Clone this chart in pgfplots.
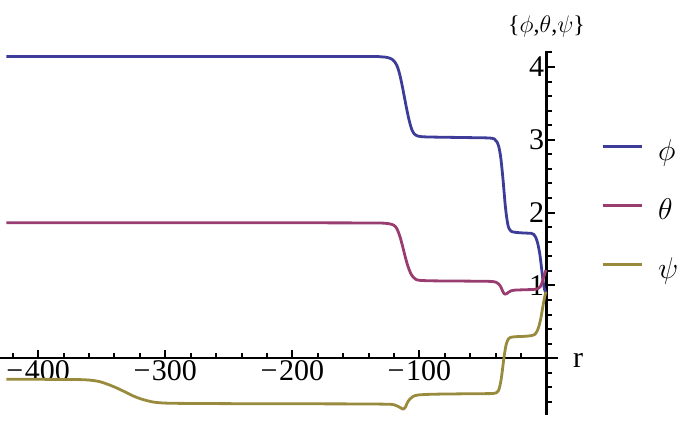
\RequirePackage{fix-cm}
\documentclass[border=0pt]{standalone}
\usepackage{fontspec}
\setmainfont{Liberation Serif}
\usepackage{pgfplots}
\pgfplotsset{compat=1.18}
\definecolor{cphi}{rgb}{0.24,0.24,0.6}
\definecolor{ctheta}{rgb}{0.6,0.24,0.442}
\definecolor{cpsi}{rgb}{0.6,0.547,0.24}
\newcommand{\mn}{−\kern1.5pt}
\begin{document}
\begin{tikzpicture}
\useasboundingbox (0,0) rectangle (688pt,425pt);
\begin{axis}[
  at={(0pt,10pt)}, anchor=south west,
  scale only axis, width=558pt, height=364pt,
  xmin=-430, xmax=9, ymin=-0.78, ymax=4.22,
  axis lines=middle,
  axis line style={line width=2.5pt,-},
  every inner x axis line/.append style={-},
  every inner y axis line/.append style={-},
  tick align=inside,
  major tick length=8pt, minor tick length=5pt,
  tick style={black, line width=2pt},
  xtick={-400,-300,-200,-100}, xticklabels={\mn400,\mn300,\mn200,\mn100},
  ytick={1,2,3,4}, yticklabels={1,2,3,4},
  minor xtick={-420,-380,-360,-340,-320,-280,-260,-240,-220,-180,-160,-140,-120,-80,-60,-40,-20},
  minor ytick={-0.6,-0.4,-0.2,0.2,0.4,0.6,0.8,1.2,1.4,1.6,1.8,2.2,2.4,2.6,2.8,3.2,3.4,3.6,3.8,4.2},
  ticklabel style={font=\fontsize{30}{34}\selectfont},
  xticklabel style={yshift=1pt},
  yticklabel style={xshift=1pt},
  xlabel={r},
  xlabel style={at={(axis cs:9,0)}, anchor=west, inner sep=0pt, xshift=15pt, yshift=-2pt, font=\fontsize{30}{32}\selectfont},
  ylabel={\{$\phi$,$\theta$,$\psi$\}},
  ylabel style={at={(axis cs:0,4.22)}, anchor=south, inner sep=0pt, yshift=14pt, rotate=0, font=\fontsize{24}{26}\selectfont},
  legend style={draw=none, fill=none, inner sep=0pt, at={(axis description cs:1.077,0.754)}, anchor=north west,
    font=\fontsize{30}{32}\selectfont, row sep=32pt,
    nodes={inner sep=0pt, text height=20pt, text depth=7pt},
    /tikz/every odd column/.append style={column sep=15pt}},
  legend image code/.code={\draw[#1, line width=3pt] (0pt,7.5pt) -- (39pt,7.5pt);},
  legend cell align=left,
  every axis plot/.append style={line width=2.8pt, line join=round},
]
\addplot[cphi, smooth] coordinates {
(-425,4.145) (-300,4.145) (-200,4.145) (-140,4.145) (-130,4.14) (-125,4.13) (-121,4.10) (-118,4.03) (-116,3.93) (-114,3.78) (-112,3.60) (-110,3.42) (-108,3.26) (-106,3.14) (-104,3.08) (-101,3.05) (-95,3.04) (-80,3.035) (-60,3.03) (-45,3.025) (-41,3.01) (-39,2.97) (-37.5,2.90) (-36,2.75) (-34.5,2.50) (-33.5,2.30) (-32.5,2.10) (-31.5,1.95) (-30.5,1.84) (-29.5,1.78) (-28,1.745) (-25,1.73) (-18,1.72) (-12,1.715) (-10,1.70) (-8.5,1.66) (-7,1.58) (-5.5,1.45) (-4.5,1.32) (-3.5,1.17) (-2.5,1.03) (-1.5,0.94) (-0.5,0.90)
};
\addlegendentry{$\phi$}
\addplot[ctheta, smooth] coordinates {
(-425,1.86) (-300,1.86) (-200,1.86) (-140,1.858) (-128,1.855) (-122,1.84) (-119,1.81) (-117,1.75) (-115,1.65) (-113,1.52) (-111,1.38) (-109,1.26) (-107,1.17) (-105,1.115) (-103,1.085) (-100,1.07) (-90,1.063) (-70,1.06) (-50,1.057) (-43,1.054) (-40,1.045) (-38,1.025) (-36,0.98) (-34.5,0.92) (-33,0.88) (-31.5,0.885) (-30,0.905) (-28,0.925) (-25,0.935) (-18,0.94) (-10,0.945) (-7,0.955) (-5,0.98) (-3.5,1.04) (-2.5,1.10) (-1.5,1.16) (-0.5,1.21)
};
\addlegendentry{$\theta$}
\addplot[cpsi, smooth] coordinates {
(-425,-0.29) (-400,-0.29) (-370,-0.293) (-360,-0.30) (-352,-0.32) (-345,-0.36) (-338,-0.41) (-332,-0.46) (-325,-0.52) (-318,-0.565) (-310,-0.60) (-302,-0.615) (-290,-0.62) (-250,-0.624) (-200,-0.626) (-150,-0.628) (-125,-0.632) (-120,-0.64) (-117,-0.66) (-114,-0.69) (-112.5,-0.70) (-111,-0.67) (-109.5,-0.61) (-107.5,-0.56) (-105,-0.525) (-101,-0.505) (-90,-0.495) (-70,-0.49) (-50,-0.487) (-42,-0.485) (-39.5,-0.475) (-38,-0.45) (-37,-0.40) (-36,-0.32) (-35,-0.20) (-34,-0.06) (-33,0.07) (-32,0.17) (-31,0.23) (-30,0.265) (-28.5,0.285) (-25,0.295) (-18,0.30) (-12,0.31) (-9,0.33) (-7.5,0.37) (-6,0.44) (-4.5,0.55) (-3.5,0.65) (-2.5,0.75) (-1.5,0.84) (-0.5,0.91)
};
\addlegendentry{$\psi$}
\end{axis}
\end{tikzpicture}
\end{document}
